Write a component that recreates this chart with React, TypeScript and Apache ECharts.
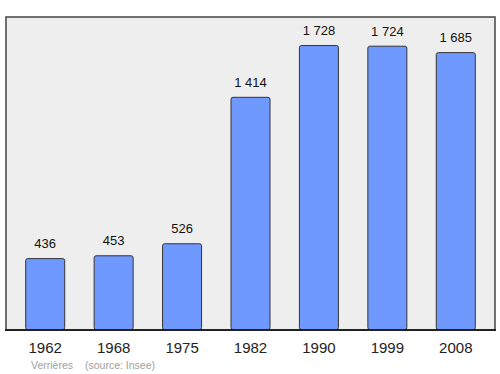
import React, { useEffect, useRef } from "react";
import * as echarts from "echarts";

const years = ["1962", "1968", "1975", "1982", "1990", "1999", "2008"];
const population = [436, 453, 526, 1414, 1728, 1724, 1685];
const footerPlace = "Verrières";
const footerSource = "(source: Insee)";

const fmt = (v: number) => String(v).replace(/\B(?=(\d{3})+(?!\d))/g, " ");

export default function App() {
  const ref = useRef<HTMLDivElement>(null);
  useEffect(() => {
    const chart = echarts.init(ref.current!, null, { renderer: "svg" });
    chart.setOption({
      animation: false,
      backgroundColor: "#ffffff",
      textStyle: { fontFamily: "Liberation Sans, Arial, sans-serif" },
      graphic: [
        {
          type: "rect",
          z: -10,
          shape: { x: 6, y: 17, width: 489, height: 313 },
          style: { fill: "#eeeeee", stroke: "#444444", lineWidth: 1.5 },
        },
        {
          type: "line",
          z: 10,
          shape: { x1: 5, y1: 330, x2: 496, y2: 330 },
          style: { stroke: "#222222", lineWidth: 2 },
        },
        {
          type: "text",
          x: 31,
          y: 359,
          style: { text: footerPlace, fill: "#a0a0a0", fontSize: 10.5, fontFamily: "Liberation Sans, Arial, sans-serif" },
        },
        {
          type: "text",
          x: 85,
          y: 359,
          style: { text: footerSource, fill: "#a0a0a0", fontSize: 10.5, fontFamily: "Liberation Sans, Arial, sans-serif" },
        },
      ],
      grid: { left: 11, right: 10, top: 17, bottom: 44, containLabel: false },
      xAxis: {
        type: "category",
        data: years,
        axisLine: { show: false },
        axisTick: { show: false },
        axisLabel: { color: "#222222", fontSize: 15, margin: 10 },
      },
      yAxis: {
        type: "value",
        min: 0,
        max: 1898,
        show: false,
        splitLine: { show: false },
      },
      series: [
        {
          type: "bar",
          data: population,
          barWidth: 40,
          itemStyle: { color: "#7099ff", borderColor: "#333333", borderWidth: 1, borderRadius: 2 },
          label: {
            show: true,
            position: "top",
            distance: 8,
            color: "#111111",
            fontSize: 13,
            formatter: (p: any) => fmt(p.value),
          },
        },
      ],
    });
    return () => chart.dispose();
  }, []);
  return <div ref={ref} style={{ width: 500, height: 374, position: "absolute", left: 0, top: 0 }} />;
}
